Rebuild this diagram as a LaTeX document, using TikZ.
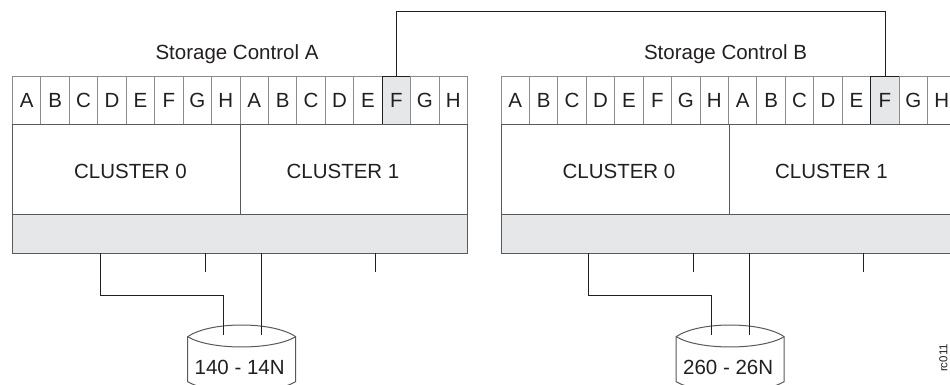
\documentclass[tikz,border=0pt]{standalone}
\usepackage{fontspec}
\setmainfont{Liberation Sans}
\usetikzlibrary{calc}
\definecolor{bandgray}{HTML}{E6E7E8}
\definecolor{edgegray}{HTML}{58595B}
\definecolor{cellgray}{HTML}{8A8B8D}
\definecolor{wire}{HTML}{231F20}
\definecolor{ink}{HTML}{231F20}
\tikzset{
  txt/.style={font=\fontsize{20.5}{22}\selectfont, text=ink, inner sep=0pt},
  cellbox/.style={draw=cellgray, line width=1pt, minimum width=28.44pt, minimum height=48pt,
     inner sep=0pt, anchor=north west, txt, text depth=0pt, text height=14.7pt},
  hotcell/.style={cellbox, draw=wire, fill=bandgray},
  clusterbox/.style={draw=edgegray, line width=1pt, minimum height=90pt, inner sep=0pt, anchor=north west},
  bandbox/.style={draw=edgegray, fill=bandgray, line width=1.2pt, minimum width=455pt, minimum height=39pt, inner sep=0pt, anchor=north west},
  wireline/.style={draw=wire, line width=0.9pt},
  diskshape/.style={draw=edgegray, fill=white, line width=1pt},
}
\newcommand\storageunit[4]{%
  % #1 prefix, #2 x offset, #3 title, #4 disk label
  \begin{scope}[shift={(#2,0)}]
    \node[txt, anchor=base] (#1title) at (237,59.3) {#3};
    \foreach \l [count=\i from 0] in {A,B,C,D,E,F,G,H,A,B,C,D,E,F,G,H}{
      \ifnum\i=13
        \node[hotcell] (#1c\i) at ({12+\i*28.44},76) {\l};
      \else
        \node[cellbox] (#1c\i) at ({12+\i*28.44},76) {\l};
      \fi
    }
    \node[clusterbox, minimum width=228pt,
      label={[txt, xshift=4pt, yshift=-2pt]center:CLUSTER 0}] (#1cl0) at (12,124) {};
    \node[clusterbox, minimum width=227pt,
      label={[txt, xshift=-11pt, yshift=-2pt]center:CLUSTER 1}] (#1cl1) at (240,124) {};
    \node[bandbox] (#1band) at (12,214) {};
    % disk
    \path[diskshape] (187.7,336.7) .. controls (210,321.1) and (273,321.1) .. (295.7,336.7)
       -- (295.7,381.7) .. controls (273,395) and (210,395) .. (187.7,381.7) -- cycle;
    \draw[diskshape, fill=none] (187.7,336.7) .. controls (210,350.4) and (273,350.4) .. (295.7,336.7);
    \node[txt, anchor=base] (#1disk) at (239.7,374) {#4};
    % connection points
    \coordinate (#1p1) at (100,253);
    \coordinate (#1p2) at (205,253);
    \coordinate (#1p3) at (261,253);
    \coordinate (#1p4) at (375,253);
    \coordinate (#1s2) at (205,272);
    \coordinate (#1s4) at (375,272);
    \coordinate (#1d1) at (223,335);
    \coordinate (#1d3) at (261,335);
    \draw[wireline] (#1p1) |- (223,295.7) -- (#1d1);
    \draw[wireline] (#1p2) -- (#1s2);
    \draw[wireline] (#1p3) -- (#1d3);
    \draw[wireline] (#1p4) -- (#1s4);
  \end{scope}
}
\begin{document}
\begin{tikzpicture}[x=1pt,y=-1pt]
  \useasboundingbox (0,0) rectangle (950,385);
  \clip (0,0) rectangle (950,385);
  \storageunit{a}{0}{Storage Control A}{140 - 14N}
  \storageunit{b}{488.5}{Storage Control B}{260 - 26N}
  \draw[wireline] (ac13.north) -- ++(0,-65) -| (bc13.north);
  \node[font=\fontsize{11.5}{12}\selectfont, text=ink, rotate=90, inner sep=0pt] (tag) at (943.5,358) {rc011};
\end{tikzpicture}
\end{document}
